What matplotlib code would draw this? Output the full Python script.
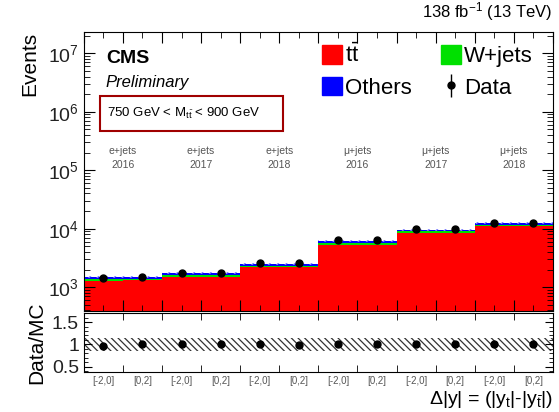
import numpy as np
import matplotlib.pyplot as plt
from matplotlib.patches import Patch, Rectangle
from matplotlib.ticker import LogLocator, NullFormatter, MultipleLocator

plt.rcParams['font.family'] = ['Liberation Sans', 'DejaVu Sans']
plt.rcParams['mathtext.fontset'] = 'custom'
plt.rcParams['mathtext.rm'] = 'Liberation Sans'
plt.rcParams['mathtext.it'] = 'Liberation Sans:italic'
plt.rcParams['hatch.linewidth'] = 0.9

# 12 bins: (channel, year) x Delta|y| sign
bin_labels = ['[-2,0]', '[0,2]'] * 6
channels = ['e+jets\n2016', 'e+jets\n2017', 'e+jets\n2018',
            'μ+jets\n2016', 'μ+jets\n2017', 'μ+jets\n2018']

ttbar = np.array([1290, 1300, 1510, 1520, 2200, 2220, 5350, 5350, 8500, 8500, 10900, 10900])
wjets = np.array([70, 70, 80, 80, 110, 110, 300, 300, 480, 480, 600, 600])
others = np.array([110, 110, 130, 130, 170, 170, 450, 450, 700, 700, 850, 850])
data = np.array([1450, 1500, 1760, 1770, 2540, 2560, 6350, 6300, 9900, 9900, 12500, 12500])
ratio = np.array([0.97, 1.0, 1.0, 1.0, 1.0, 0.98, 1.0, 1.0, 1.0, 1.0, 1.0, 1.0])
syst = 0.15

edges = np.arange(len(ttbar) + 1)
centers = edges[:-1] + 0.5

fig = plt.figure(figsize=(5.59, 4.12), dpi=100)
ax = fig.add_axes([0.150, 0.245, 0.839, 0.677])
rax = fig.add_axes([0.150, 0.097, 0.839, 0.143])

# stacked histograms
s1 = ttbar
s2 = s1 + wjets
s3 = s2 + others
ax.stairs(s1, edges, baseline=1, fill=True, color='#ff0000', lw=0)
ax.stairs(s2, edges, baseline=s1, fill=True, color='#00e000', lw=0)
ax.stairs(s3, edges, baseline=s2, fill=True, color='#0000ff', lw=0)
# uncertainty hatch on top of stack
ax.stairs(s3 * 1.04, edges, baseline=s3 * 0.96, fill=True, facecolor='none',
          edgecolor='#8080ff', hatch='////', lw=0)

data_h = ax.errorbar(centers, data, yerr=np.sqrt(data), fmt='o', color='black',
                     ms=5, elinewidth=1, capsize=0, zorder=5)

ax.set_yscale('log')
ax.set_ylim(390, 2.3e7)
ax.set_xlim(0, 12)
ax.yaxis.set_major_locator(LogLocator(base=10, numticks=10))
ax.yaxis.set_minor_locator(LogLocator(base=10, subs=np.arange(2, 10), numticks=10))
ax.yaxis.set_minor_formatter(NullFormatter())
ax.xaxis.set_major_locator(MultipleLocator(1))
ax.xaxis.set_minor_locator(MultipleLocator(0.5))
ax.tick_params(axis='both', which='both', direction='in', top=True, right=True,
               labelsize=14, labelcolor='#222222')
ax.tick_params(axis='both', which='major', length=8)
ax.tick_params(axis='both', which='minor', length=4)
ax.tick_params(axis='x', labelbottom=False)
ax.set_ylabel('Events', fontsize=15, loc='top', labelpad=6)

for i, ch in enumerate(channels):
    ax.text(2 * i + 1, 1.0e5, ch, ha='center', va='bottom', fontsize=7.5,
            color='#555555', linespacing=1.5)

ax.text(0.047, 0.935, 'CMS', transform=ax.transAxes, fontsize=14,
        fontweight='bold', va='top')
ax.text(0.047, 0.845, 'Preliminary', transform=ax.transAxes, fontsize=12,
        style='italic', va='top')
ax.add_patch(Rectangle((0.035, 0.645), 0.39, 0.125, transform=ax.transAxes,
                       fill=False, edgecolor='#a00000', lw=1.5))
ax.text(0.05, 0.707, r'750 GeV < M$_{\mathregular{t\bar{t}}}$ < 900 GeV',
        transform=ax.transAxes, fontsize=9.5, va='center')

handles = [Patch(color='#ff0000'), Patch(color='#0000ff'),
           Patch(color='#00e000'), data_h]
labels = [r'$\mathregular{t\bar{t}}$', 'Others', 'W+jets', 'Data']
ax.legend(handles, labels, ncol=2, loc='upper right', bbox_to_anchor=(1.0, 1.03),
          frameon=False, fontsize=16, handlelength=0.9, handleheight=0.9,
          handletextpad=0.15, columnspacing=1.3, labelspacing=0.45)

fig.text(0.989, 0.945, r'138 fb$^{\mathregular{-1}}$ (13 TeV)', ha='right',
         va='bottom', fontsize=12)

# ratio panel
rax.stairs(np.full(len(ratio), 1 + syst), edges,
           baseline=np.full(len(ratio), 1 - syst), fill=True, facecolor='none',
           edgecolor='#333333', hatch='\\\\\\\\\\', lw=0)
rax.errorbar(centers, ratio, yerr=0.02, fmt='o', color='black', ms=5,
             elinewidth=1, capsize=0)
rax.set_xlim(0, 12)
rax.set_ylim(0.38, 1.7)
rax.set_yticks([0.5, 1, 1.5])
rax.set_yticklabels(['0.5', '1', '1.5'])
rax.yaxis.set_minor_locator(MultipleLocator(0.1))
rax.set_xticks(centers)
rax.set_xticklabels(bin_labels, fontsize=7, color='#555555')
rax.xaxis.set_minor_locator(MultipleLocator(1))
rax.tick_params(axis='both', which='both', direction='in', top=True, right=True)
rax.tick_params(axis='y', labelsize=14, labelcolor='#222222')
rax.tick_params(axis='y', which='major', length=6)
rax.tick_params(axis='y', which='minor', length=3)
rax.tick_params(axis='x', which='major', length=0, pad=3)
rax.tick_params(axis='x', which='minor', length=5)
rax.set_ylabel('Data/MC', fontsize=15, labelpad=4)
fig.text(0.989, 0.005, r'$\Delta$|y| = (|y$_{\mathregular{t}}$|-|y$_{\mathregular{\bar{t}}}$|)',
         ha='right', va='bottom', fontsize=14)

fig.align_ylabels([ax, rax])
fig.savefig('out.png', dpi=100)
